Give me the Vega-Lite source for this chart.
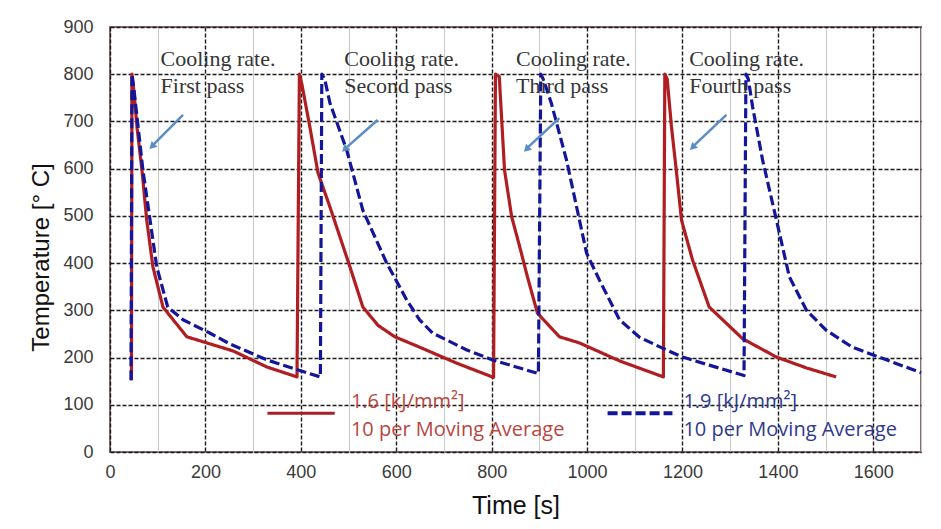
{
  "$schema": "https://vega.github.io/schema/vega-lite/v6.json",
  "width": 811,
  "height": 425,
  "autosize": "none",
  "padding": {"left": 110, "top": 27, "right": 20, "bottom": 77},
  "background": "white",
  "config": {
    "view": {"stroke": "#8a6c6c", "strokeWidth": 2},
    "axis": {
      "domain": false,
      "ticks": false,
      "labelFont": "Liberation Sans",
      "labelFontSize": 18,
      "labelColor": "#3a3a3a",
      "titleFont": "Liberation Sans",
      "titleFontWeight": "normal",
      "titleColor": "#111111",
      "labelOverlap": false,
      "labelFlush": false
    }
  },
  "datasets": {
    "curves": [
      {"s": "1.6", "i": 1, "t": 45, "T": 152},
      {"s": "1.6", "i": 2, "t": 46, "T": 800},
      {"s": "1.6", "i": 3, "t": 50, "T": 765},
      {"s": "1.6", "i": 4, "t": 57, "T": 684},
      {"s": "1.6", "i": 5, "t": 67, "T": 597},
      {"s": "1.6", "i": 6, "t": 77, "T": 491},
      {"s": "1.6", "i": 7, "t": 90, "T": 392},
      {"s": "1.6", "i": 8, "t": 111, "T": 307},
      {"s": "1.6", "i": 9, "t": 161, "T": 244},
      {"s": "1.6", "i": 10, "t": 203, "T": 231},
      {"s": "1.6", "i": 11, "t": 258, "T": 214},
      {"s": "1.6", "i": 12, "t": 329, "T": 180},
      {"s": "1.6", "i": 13, "t": 392, "T": 159},
      {"s": "1.6", "i": 14, "t": 397, "T": 800},
      {"s": "1.6", "i": 15, "t": 402, "T": 780},
      {"s": "1.6", "i": 16, "t": 419, "T": 688},
      {"s": "1.6", "i": 17, "t": 436, "T": 591},
      {"s": "1.6", "i": 18, "t": 461, "T": 519},
      {"s": "1.6", "i": 19, "t": 503, "T": 392},
      {"s": "1.6", "i": 20, "t": 530, "T": 307},
      {"s": "1.6", "i": 21, "t": 562, "T": 268},
      {"s": "1.6", "i": 22, "t": 597, "T": 244},
      {"s": "1.6", "i": 23, "t": 649, "T": 222},
      {"s": "1.6", "i": 24, "t": 727, "T": 188},
      {"s": "1.6", "i": 25, "t": 804, "T": 158},
      {"s": "1.6", "i": 26, "t": 808, "T": 800},
      {"s": "1.6", "i": 27, "t": 816, "T": 795},
      {"s": "1.6", "i": 28, "t": 827, "T": 597},
      {"s": "1.6", "i": 29, "t": 842, "T": 498},
      {"s": "1.6", "i": 30, "t": 859, "T": 434},
      {"s": "1.6", "i": 31, "t": 875, "T": 371},
      {"s": "1.6", "i": 32, "t": 896, "T": 294},
      {"s": "1.6", "i": 33, "t": 942, "T": 244},
      {"s": "1.6", "i": 34, "t": 984, "T": 231},
      {"s": "1.6", "i": 35, "t": 1068, "T": 193},
      {"s": "1.6", "i": 36, "t": 1160, "T": 159},
      {"s": "1.6", "i": 37, "t": 1163, "T": 800},
      {"s": "1.6", "i": 38, "t": 1168, "T": 790},
      {"s": "1.6", "i": 39, "t": 1177, "T": 688},
      {"s": "1.6", "i": 40, "t": 1187, "T": 597},
      {"s": "1.6", "i": 41, "t": 1198, "T": 491},
      {"s": "1.6", "i": 42, "t": 1221, "T": 407},
      {"s": "1.6", "i": 43, "t": 1256, "T": 307},
      {"s": "1.6", "i": 44, "t": 1326, "T": 240},
      {"s": "1.6", "i": 45, "t": 1397, "T": 201},
      {"s": "1.6", "i": 46, "t": 1460, "T": 178},
      {"s": "1.6", "i": 47, "t": 1522, "T": 159},
      {"s": "1.9", "i": 1, "t": 44, "T": 152},
      {"s": "1.9", "i": 2, "t": 46, "T": 800},
      {"s": "1.9", "i": 3, "t": 50, "T": 770},
      {"s": "1.9", "i": 4, "t": 59, "T": 688},
      {"s": "1.9", "i": 5, "t": 69, "T": 597},
      {"s": "1.9", "i": 6, "t": 84, "T": 491},
      {"s": "1.9", "i": 7, "t": 98, "T": 392},
      {"s": "1.9", "i": 8, "t": 121, "T": 307},
      {"s": "1.9", "i": 9, "t": 153, "T": 280},
      {"s": "1.9", "i": 10, "t": 209, "T": 252},
      {"s": "1.9", "i": 11, "t": 251, "T": 229},
      {"s": "1.9", "i": 12, "t": 329, "T": 195},
      {"s": "1.9", "i": 13, "t": 390, "T": 175},
      {"s": "1.9", "i": 14, "t": 441, "T": 159},
      {"s": "1.9", "i": 15, "t": 444, "T": 800},
      {"s": "1.9", "i": 16, "t": 450, "T": 790},
      {"s": "1.9", "i": 17, "t": 461, "T": 739},
      {"s": "1.9", "i": 18, "t": 496, "T": 640},
      {"s": "1.9", "i": 19, "t": 530, "T": 512},
      {"s": "1.9", "i": 20, "t": 580, "T": 400},
      {"s": "1.9", "i": 21, "t": 622, "T": 322},
      {"s": "1.9", "i": 22, "t": 649, "T": 280},
      {"s": "1.9", "i": 23, "t": 676, "T": 252},
      {"s": "1.9", "i": 24, "t": 748, "T": 216},
      {"s": "1.9", "i": 25, "t": 802, "T": 195},
      {"s": "1.9", "i": 26, "t": 898, "T": 166},
      {"s": "1.9", "i": 27, "t": 903, "T": 800},
      {"s": "1.9", "i": 28, "t": 908, "T": 790},
      {"s": "1.9", "i": 29, "t": 925, "T": 739},
      {"s": "1.9", "i": 30, "t": 957, "T": 618},
      {"s": "1.9", "i": 31, "t": 999, "T": 421},
      {"s": "1.9", "i": 32, "t": 1026, "T": 364},
      {"s": "1.9", "i": 33, "t": 1068, "T": 280},
      {"s": "1.9", "i": 34, "t": 1110, "T": 243},
      {"s": "1.9", "i": 35, "t": 1158, "T": 220},
      {"s": "1.9", "i": 36, "t": 1200, "T": 201},
      {"s": "1.9", "i": 37, "t": 1256, "T": 184},
      {"s": "1.9", "i": 38, "t": 1329, "T": 162},
      {"s": "1.9", "i": 39, "t": 1333, "T": 800},
      {"s": "1.9", "i": 40, "t": 1338, "T": 790},
      {"s": "1.9", "i": 41, "t": 1347, "T": 731},
      {"s": "1.9", "i": 42, "t": 1368, "T": 618},
      {"s": "1.9", "i": 43, "t": 1397, "T": 491},
      {"s": "1.9", "i": 44, "t": 1424, "T": 371},
      {"s": "1.9", "i": 45, "t": 1460, "T": 300},
      {"s": "1.9", "i": 46, "t": 1501, "T": 258},
      {"s": "1.9", "i": 47, "t": 1556, "T": 222},
      {"s": "1.9", "i": 48, "t": 1612, "T": 201},
      {"s": "1.9", "i": 49, "t": 1700, "T": 168}
    ],
    "legendLines": [
      {"s": "1.6", "t": 330, "t2": 471, "T": 82},
      {"s": "1.9", "t": 1043, "t2": 1179, "T": 82}
    ],
    "legendText": [
      {"s": "1.6", "t": 505, "T": 106, "label": "1.6 [kJ/mm²]"},
      {"s": "1.6", "t": 505, "T": 47, "label": "10 per Moving Average"},
      {"s": "1.9", "t": 1202, "T": 106, "label": "1.9 [kJ/mm²]"},
      {"s": "1.9", "t": 1202, "T": 47, "label": "10 per Moving Average"}
    ],
    "notes": [
      {"t": 106, "T": 832, "label": "Cooling rate."},
      {"t": 106, "T": 775, "label": "First pass"},
      {"t": 491, "T": 832, "label": "Cooling rate."},
      {"t": 491, "T": 775, "label": "Second pass"},
      {"t": 851, "T": 832, "label": "Cooling rate."},
      {"t": 851, "T": 775, "label": "Third pass"},
      {"t": 1214, "T": 832, "label": "Cooling rate."},
      {"t": 1214, "T": 775, "label": "Fourth pass"}
    ],
    "arrows": [
      {"t": 153, "T": 714, "t2": 92, "T2": 652},
      {"t": 561, "T": 703, "t2": 496, "T2": 645},
      {"t": 942, "T": 707, "t2": 877, "T2": 646},
      {"t": 1292, "T": 714, "t2": 1225, "T2": 650}
    ],
    "heads": [
      {"t": 88, "T": 647},
      {"t": 492, "T": 641},
      {"t": 873, "T": 641},
      {"t": 1221, "T": 645}
    ]
  },
  "resolve": {"scale": {"color": "independent"}},
  "layer": [
    {
      "data": {"name": "curves"},
      "mark": {"type": "line", "strokeWidth": 3.2, "strokeJoin": "round"},
      "encoding": {
        "x": {
          "field": "t", "type": "quantitative",
          "scale": {"domain": [0, 1700], "nice": false, "zero": false},
          "axis": {
            "title": "Time [s]",
            "titleFontSize": 25,
            "titlePadding": 12,
            "labelPadding": 11,
            "format": "d",
            "values": [0,50,100,150,200,250,300,350,400,450,500,550,600,650,700,750,800,850,900,950,1000,1050,1100,1150,1200,1250,1300,1350,1400,1450,1500,1550,1600,1650,1700],
            "labelExpr": "(datum.value % 200 === 0 && datum.value <= 1600) ? datum.label : ''",
            "gridColor": {"condition": {"test": "datum.value % 200 === 0", "value": "#1a1a1a"}, "value": "#c9c9c9"},
            "gridDash": {"condition": {"test": "datum.value % 200 === 0", "value": [4, 2]}, "value": []},
            "gridWidth": {"condition": {"test": "datum.value % 200 === 0", "value": 1.4}, "value": 1}
          }
        },
        "y": {
          "field": "T", "type": "quantitative",
          "scale": {"domain": [0, 900], "nice": false, "zero": false},
          "axis": {
            "title": "Temperature  [° C]",
            "titleFontSize": 24,
            "titleX": -57,
            "titleY": 230,
            "labelPadding": 17,
            "format": "d",
            "values": [0,50,100,150,200,250,300,350,400,450,500,550,600,650,700,750,800,850,900],
            "labelExpr": "datum.value % 100 === 0 ? datum.label : ''",
            "gridColor": {"condition": {"test": "datum.value % 100 === 0", "value": "#1a1a1a"}, "value": "#c9c9c9"},
            "gridDash": {"condition": {"test": "datum.value % 100 === 0", "value": [4, 2]}, "value": []},
            "gridWidth": {"condition": {"test": "datum.value % 100 === 0", "value": 1.4}, "value": 1}
          }
        },
        "order": {"field": "i"},
        "color": {"field": "s", "type": "nominal", "scale": {"domain": ["1.6", "1.9"], "range": ["#b01e22", "#14169a"]}, "legend": null},
        "strokeDash": {"field": "s", "type": "nominal", "scale": {"domain": ["1.6", "1.9"], "range": [[1, 0], [10, 4]]}, "legend": null},
        "strokeWidth": {"field": "s", "type": "nominal", "scale": {"domain": ["1.6", "1.9"], "range": [3, 4]}, "legend": null}
      }
    },
    {
      "data": {"name": "legendLines"},
      "mark": {"type": "rule"},
      "encoding": {
        "x": {"field": "t", "type": "quantitative"},
        "x2": {"field": "t2"},
        "y": {"field": "T", "type": "quantitative"},
        "color": {"field": "s", "type": "nominal", "scale": {"domain": ["1.6", "1.9"], "range": ["#a81f28", "#14169a"]}, "legend": null},
        "strokeDash": {"field": "s", "type": "nominal", "scale": {"domain": ["1.6", "1.9"], "range": [[1, 0], [14, 4]]}, "legend": null},
        "strokeWidth": {"field": "s", "type": "nominal", "scale": {"domain": ["1.6", "1.9"], "range": [3, 4]}, "legend": null}
      }
    },
    {
      "data": {"name": "legendText"},
      "mark": {"type": "text", "font": "Open Sans", "fontSize": 20, "align": "left", "baseline": "middle"},
      "encoding": {
        "x": {"field": "t", "type": "quantitative"},
        "y": {"field": "T", "type": "quantitative"},
        "text": {"field": "label"},
        "color": {"field": "s", "type": "nominal", "scale": {"domain": ["1.6", "1.9"], "range": ["#b8463f", "#2f3a8f"]}, "legend": null}
      }
    },
    {
      "data": {"name": "notes"},
      "mark": {"type": "text", "font": "Liberation Serif", "fontSize": 22, "align": "left", "baseline": "middle", "color": "#353535"},
      "encoding": {
        "x": {"field": "t", "type": "quantitative"},
        "y": {"field": "T", "type": "quantitative"},
        "text": {"field": "label"}
      }
    },
    {
      "data": {"name": "arrows"},
      "mark": {"type": "rule", "color": "#5a8cc6", "strokeWidth": 2.5},
      "encoding": {
        "x": {"field": "t", "type": "quantitative"},
        "y": {"field": "T", "type": "quantitative"},
        "x2": {"field": "t2"},
        "y2": {"field": "T2"}
      }
    },
    {
      "data": {"name": "heads"},
      "mark": {"type": "point", "shape": "triangle-up", "filled": true, "opacity": 1, "color": "#5a8cc6", "size": 70, "angle": 225},
      "encoding": {
        "x": {"field": "t", "type": "quantitative"},
        "y": {"field": "T", "type": "quantitative"}
      }
    }
  ]
}
